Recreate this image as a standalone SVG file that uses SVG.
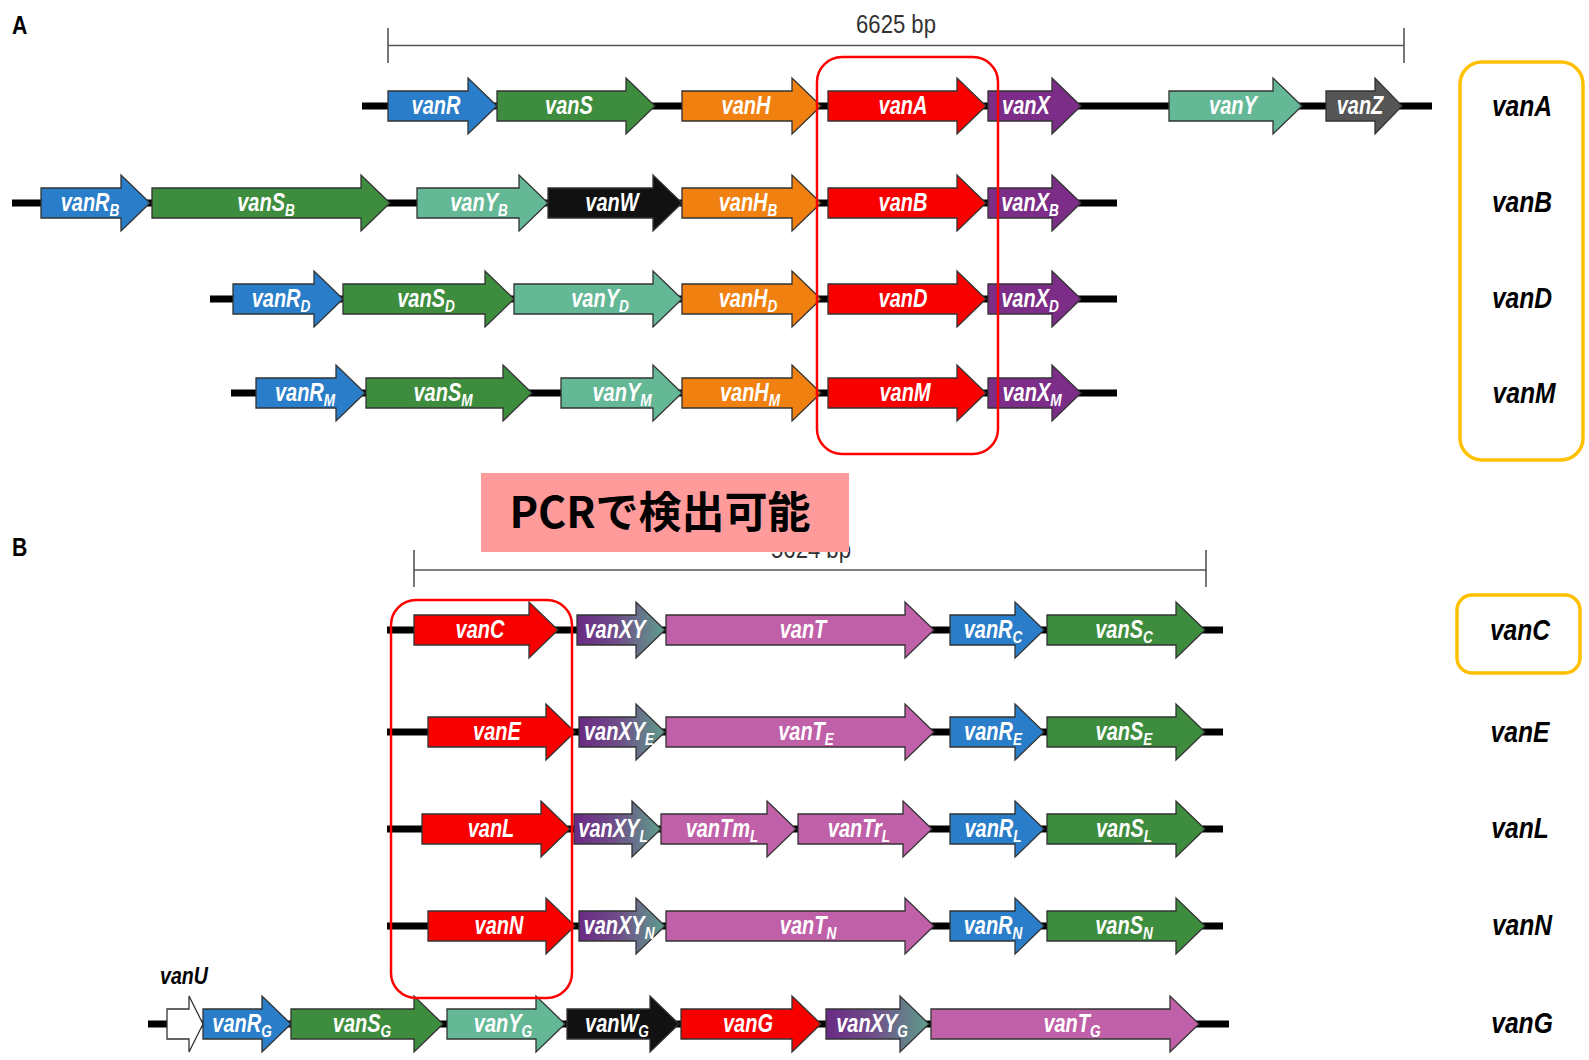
<svg xmlns="http://www.w3.org/2000/svg" width="1589" height="1060" viewBox="0 0 1589 1060">
<defs>
<linearGradient id="gxy" x1="0" y1="0" x2="1" y2="0">
<stop offset="0" stop-color="#6A2A84"/>
<stop offset="0.45" stop-color="#6F4C88"/>
<stop offset="1" stop-color="#5E9E8C"/>
</linearGradient>
<style>
.g{stroke:#333;stroke-width:1.3;stroke-linejoin:miter}
.R{fill:#2A7DC8}.S{fill:#3E8C3E}.H{fill:#F08010}.A{fill:#F80000}.X{fill:#7B2D88}
.Y{fill:#64B896}.Z{fill:#555}.W{fill:#111}.T{fill:#C060A8}.XY{fill:url(#gxy)}.U{fill:#fff}
.gt{font-family:"Liberation Sans",sans-serif;font-style:italic;font-weight:bold;font-size:25px;fill:#fff;text-anchor:middle}
.sub{font-size:17px}
.bb{stroke:#000;stroke-width:7}
.sc{stroke:#555;stroke-width:1.6;fill:none}
.sct{font-family:"Liberation Sans",sans-serif;font-size:26px;fill:#333;text-anchor:middle}
.lab{font-family:"Liberation Sans",sans-serif;font-style:italic;font-weight:bold;font-size:29px;fill:#000;text-anchor:middle}
.pl{font-family:"Liberation Sans",sans-serif;font-weight:bold;font-size:25px;fill:#000}
.redbox{fill:none;stroke:#F00;stroke-width:2.5}
.orbox{fill:none;stroke:#FFC000;stroke-width:3.5}
</style>
</defs>
<rect width="1589" height="1060" fill="#fff"/>

<!-- panel labels -->
<text class="pl" transform="translate(12,34) scale(.85,1)">A</text>
<text class="pl" transform="translate(12,556) scale(.85,1)">B</text>

<!-- scale bars -->
<g id="scaleA">
<path class="sc" d="M388,28 V63 M388,45.5 H1404 M1404,28 V63"/>
<text class="sct" transform="translate(896,33) scale(.85,1)">6625 bp</text>
</g>
<g id="scaleB">
<path class="sc" d="M414,550 V587 M414,570 H1206 M1206,550 V587"/>
<text class="sct" transform="translate(811,558) scale(.85,1)">5624 bp</text>
</g>

<!-- backbones -->
<g id="connectors">
<line class="bb" x1="362" y1="106" x2="1432" y2="106"/>
<line class="bb" x1="12" y1="203" x2="1117" y2="203"/>
<line class="bb" x1="210" y1="299" x2="1117" y2="299"/>
<line class="bb" x1="231" y1="393" x2="1117" y2="393"/>
<line class="bb" x1="387" y1="630" x2="1223" y2="630"/>
<line class="bb" x1="387" y1="732" x2="1223" y2="732"/>
<line class="bb" x1="387" y1="829" x2="1223" y2="829"/>
<line class="bb" x1="387" y1="926" x2="1223" y2="926"/>
<line class="bb" x1="148" y1="1024" x2="1229" y2="1024"/>
</g>

<!-- Row vanA y=106 -->
<g id="rowA">
<g id="vanR"><path class="g R" d="M388,91 H468 V78 L497,106 L468,134 V121 H388 Z"/><text class="gt" transform="translate(436,114) scale(.8,1)">vanR</text></g>
<g id="vanS"><path class="g S" d="M497,91 H626 V78 L655,106 L626,134 V121 H497 Z"/><text class="gt" transform="translate(569,114) scale(.8,1)">vanS</text></g>
<g id="vanH"><path class="g H" d="M682,91 H792 V78 L821,106 L792,134 V121 H682 Z"/><text class="gt" transform="translate(746,114) scale(.8,1)">vanH</text></g>
<g id="vanA"><path class="g A" d="M828,91 H957 V78 L986,106 L957,134 V121 H828 Z"/><text class="gt" transform="translate(903,114) scale(.8,1)">vanA</text></g>
<g id="vanX"><path class="g X" d="M988,91 H1052 V78 L1081,106 L1052,134 V121 H988 Z"/><text class="gt" transform="translate(1026,114) scale(.8,1)">vanX</text></g>
<g id="vanY"><path class="g Y" d="M1169,91 H1273 V78 L1302,106 L1273,134 V121 H1169 Z"/><text class="gt" transform="translate(1233,114) scale(.8,1)">vanY</text></g>
<g id="vanZ"><path class="g Z" d="M1326,91 H1375 V78 L1402,106 L1375,134 V121 H1326 Z"/><text class="gt" transform="translate(1360,114) scale(.8,1)">vanZ</text></g>
</g>

<!-- Row vanB y=203 -->
<g id="rowB">
<g id="vanRB"><path class="g R" d="M41,188 H121 V175 L150,203 L121,231 V218 H41 Z"/><text class="gt" transform="translate(90,211) scale(.8,1)">vanR<tspan class="sub" dy="5">B</tspan></text></g>
<g id="vanSB"><path class="g S" d="M152,188 H361 V175 L390,203 L361,231 V218 H152 Z"/><text class="gt" transform="translate(266,211) scale(.8,1)">vanS<tspan class="sub" dy="5">B</tspan></text></g>
<g id="vanYB"><path class="g Y" d="M417,188 H519 V175 L548,203 L519,231 V218 H417 Z"/><text class="gt" transform="translate(479,211) scale(.8,1)">vanY<tspan class="sub" dy="5">B</tspan></text></g>
<g id="vanW"><path class="g W" d="M548,188 H653 V175 L682,203 L653,231 V218 H548 Z"/><text class="gt" transform="translate(612,211) scale(.8,1)">vanW</text></g>
<g id="vanHB"><path class="g H" d="M682,188 H792 V175 L821,203 L792,231 V218 H682 Z"/><text class="gt" transform="translate(748,211) scale(.8,1)">vanH<tspan class="sub" dy="5">B</tspan></text></g>
<g id="vanB"><path class="g A" d="M828,188 H957 V175 L986,203 L957,231 V218 H828 Z"/><text class="gt" transform="translate(903,211) scale(.8,1)">vanB</text></g>
<g id="vanXB"><path class="g X" d="M988,188 H1052 V175 L1081,203 L1052,231 V218 H988 Z"/><text class="gt" transform="translate(1030,211) scale(.8,1)">vanX<tspan class="sub" dy="5">B</tspan></text></g>
</g>

<!-- Row vanD y=299 -->
<g id="rowD">
<g id="vanRD"><path class="g R" d="M233,284 H314 V271 L343,299 L314,327 V314 H233 Z"/><text class="gt" transform="translate(281,307) scale(.8,1)">vanR<tspan class="sub" dy="5">D</tspan></text></g>
<g id="vanSD"><path class="g S" d="M343,284 H485 V271 L514,299 L485,327 V314 H343 Z"/><text class="gt" transform="translate(426,307) scale(.8,1)">vanS<tspan class="sub" dy="5">D</tspan></text></g>
<g id="vanYD"><path class="g Y" d="M514,284 H653 V271 L682,299 L653,327 V314 H514 Z"/><text class="gt" transform="translate(600,307) scale(.8,1)">vanY<tspan class="sub" dy="5">D</tspan></text></g>
<g id="vanHD"><path class="g H" d="M682,284 H792 V271 L821,299 L792,327 V314 H682 Z"/><text class="gt" transform="translate(748,307) scale(.8,1)">vanH<tspan class="sub" dy="5">D</tspan></text></g>
<g id="vanD"><path class="g A" d="M828,284 H957 V271 L986,299 L957,327 V314 H828 Z"/><text class="gt" transform="translate(903,307) scale(.8,1)">vanD</text></g>
<g id="vanXD"><path class="g X" d="M988,284 H1052 V271 L1081,299 L1052,327 V314 H988 Z"/><text class="gt" transform="translate(1030,307) scale(.8,1)">vanX<tspan class="sub" dy="5">D</tspan></text></g>
</g>

<!-- Row vanM y=393 -->
<g id="rowM">
<g id="vanRM"><path class="g R" d="M256,378 H336 V365 L365,393 L336,421 V408 H256 Z"/><text class="gt" transform="translate(305,401) scale(.8,1)">vanR<tspan class="sub" dy="5">M</tspan></text></g>
<g id="vanSM"><path class="g S" d="M366,378 H503 V365 L532,393 L503,421 V408 H366 Z"/><text class="gt" transform="translate(443,401) scale(.8,1)">vanS<tspan class="sub" dy="5">M</tspan></text></g>
<g id="vanYM"><path class="g Y" d="M561,378 H653 V365 L682,393 L653,421 V408 H561 Z"/><text class="gt" transform="translate(622,401) scale(.8,1)">vanY<tspan class="sub" dy="5">M</tspan></text></g>
<g id="vanHM"><path class="g H" d="M682,378 H792 V365 L821,393 L792,421 V408 H682 Z"/><text class="gt" transform="translate(750,401) scale(.8,1)">vanH<tspan class="sub" dy="5">M</tspan></text></g>
<g id="vanMg"><path class="g A" d="M828,378 H957 V365 L986,393 L957,421 V408 H828 Z"/><text class="gt" transform="translate(905,401) scale(.8,1)">vanM</text></g>
<g id="vanXM"><path class="g X" d="M988,378 H1052 V365 L1081,393 L1052,421 V408 H988 Z"/><text class="gt" transform="translate(1032,401) scale(.8,1)">vanX<tspan class="sub" dy="5">M</tspan></text></g>
</g>

<!-- Row vanC y=630 -->
<g id="rowC">
<g id="vanCg"><path class="g A" d="M414,615 H529 V602 L558,630 L529,658 V645 H414 Z"/><text class="gt" transform="translate(480,638) scale(.8,1)">vanC</text></g>
<g id="vanXY"><path class="g XY" d="M577,615 H636 V602 L665,630 L636,658 V645 H577 Z"/><text class="gt" transform="translate(615,638) scale(.8,1)">vanXY</text></g>
<g id="vanT"><path class="g T" d="M666,615 H905 V602 L934,630 L905,658 V645 H666 Z"/><text class="gt" transform="translate(803,638) scale(.8,1)">vanT</text></g>
<g id="vanRC"><path class="g R" d="M950,615 H1015 V602 L1044,630 L1015,658 V645 H950 Z"/><text class="gt" transform="translate(993,638) scale(.8,1)">vanR<tspan class="sub" dy="5">C</tspan></text></g>
<g id="vanSC"><path class="g S" d="M1047,615 H1176 V602 L1205,630 L1176,658 V645 H1047 Z"/><text class="gt" transform="translate(1124,638) scale(.8,1)">vanS<tspan class="sub" dy="5">C</tspan></text></g>
</g>

<!-- Row vanE y=732 -->
<g id="rowE">
<g id="vanEg"><path class="g A" d="M428,717 H546 V704 L575,732 L546,760 V747 H428 Z"/><text class="gt" transform="translate(497,740) scale(.8,1)">vanE</text></g>
<g id="vanXYE"><path class="g XY" d="M579,717 H636 V704 L665,732 L636,760 V747 H579 Z"/><text class="gt" transform="translate(619,740) scale(.8,1)">vanXY<tspan class="sub" dy="5">E</tspan></text></g>
<g id="vanTE"><path class="g T" d="M666,717 H905 V704 L934,732 L905,760 V747 H666 Z"/><text class="gt" transform="translate(806,740) scale(.8,1)">vanT<tspan class="sub" dy="5">E</tspan></text></g>
<g id="vanRE"><path class="g R" d="M950,717 H1015 V704 L1044,732 L1015,760 V747 H950 Z"/><text class="gt" transform="translate(993,740) scale(.8,1)">vanR<tspan class="sub" dy="5">E</tspan></text></g>
<g id="vanSE"><path class="g S" d="M1047,717 H1176 V704 L1205,732 L1176,760 V747 H1047 Z"/><text class="gt" transform="translate(1124,740) scale(.8,1)">vanS<tspan class="sub" dy="5">E</tspan></text></g>
</g>

<!-- Row vanL y=829 -->
<g id="rowL">
<g id="vanLg"><path class="g A" d="M422,814 H541 V801 L570,829 L541,857 V844 H422 Z"/><text class="gt" transform="translate(491,837) scale(.8,1)">vanL</text></g>
<g id="vanXYL"><path class="g XY" d="M574,814 H632 V801 L661,829 L632,857 V844 H574 Z"/><text class="gt" transform="translate(613,837) scale(.8,1)">vanXY<tspan class="sub" dy="5">L</tspan></text></g>
<g id="vanTmL"><path class="g T" d="M661,814 H767 V801 L796,829 L767,857 V844 H661 Z"/><text class="gt" transform="translate(722,837) scale(.8,1)">vanTm<tspan class="sub" dy="5">L</tspan></text></g>
<g id="vanTrL"><path class="g T" d="M798,814 H903 V801 L932,829 L903,857 V844 H798 Z"/><text class="gt" transform="translate(859,837) scale(.8,1)">vanTr<tspan class="sub" dy="5">L</tspan></text></g>
<g id="vanRL"><path class="g R" d="M950,814 H1015 V801 L1044,829 L1015,857 V844 H950 Z"/><text class="gt" transform="translate(993,837) scale(.8,1)">vanR<tspan class="sub" dy="5">L</tspan></text></g>
<g id="vanSL"><path class="g S" d="M1047,814 H1176 V801 L1205,829 L1176,857 V844 H1047 Z"/><text class="gt" transform="translate(1124,837) scale(.8,1)">vanS<tspan class="sub" dy="5">L</tspan></text></g>
</g>

<!-- Row vanN y=926 -->
<g id="rowN">
<g id="vanNg"><path class="g A" d="M428,911 H546 V898 L575,926 L546,954 V941 H428 Z"/><text class="gt" transform="translate(499,934) scale(.8,1)">vanN</text></g>
<g id="vanXYN"><path class="g XY" d="M579,911 H636 V898 L665,926 L636,954 V941 H579 Z"/><text class="gt" transform="translate(619,934) scale(.8,1)">vanXY<tspan class="sub" dy="5">N</tspan></text></g>
<g id="vanTN"><path class="g T" d="M666,911 H905 V898 L934,926 L905,954 V941 H666 Z"/><text class="gt" transform="translate(808,934) scale(.8,1)">vanT<tspan class="sub" dy="5">N</tspan></text></g>
<g id="vanRN"><path class="g R" d="M950,911 H1015 V898 L1044,926 L1015,954 V941 H950 Z"/><text class="gt" transform="translate(993,934) scale(.8,1)">vanR<tspan class="sub" dy="5">N</tspan></text></g>
<g id="vanSN"><path class="g S" d="M1047,911 H1176 V898 L1205,926 L1176,954 V941 H1047 Z"/><text class="gt" transform="translate(1124,934) scale(.8,1)">vanS<tspan class="sub" dy="5">N</tspan></text></g>
</g>

<!-- Row vanG y=1024 -->
<g id="rowG">
<g id="vanU"><path class="g U" d="M167,1009 H189 V996 L203,1024 L189,1052 V1039 H167 Z"/><text transform="translate(184,984) scale(.85,1)" style="font-family:'Liberation Sans',sans-serif;font-style:italic;font-weight:bold;font-size:23px;fill:#000;text-anchor:middle">vanU</text></g>
<g id="vanRG"><path class="g R" d="M203,1009 H262 V996 L291,1024 L262,1052 V1039 H203 Z"/><text class="gt" transform="translate(242,1032) scale(.8,1)">vanR<tspan class="sub" dy="5">G</tspan></text></g>
<g id="vanSG"><path class="g S" d="M291,1009 H414 V996 L443,1024 L414,1052 V1039 H291 Z"/><text class="gt" transform="translate(362,1032) scale(.8,1)">vanS<tspan class="sub" dy="5">G</tspan></text></g>
<g id="vanYG"><path class="g Y" d="M447,1009 H536 V996 L565,1024 L536,1052 V1039 H447 Z"/><text class="gt" transform="translate(503,1032) scale(.8,1)">vanY<tspan class="sub" dy="5">G</tspan></text></g>
<g id="vanWG"><path class="g W" d="M567,1009 H650 V996 L679,1024 L650,1052 V1039 H567 Z"/><text class="gt" transform="translate(617,1032) scale(.8,1)">vanW<tspan class="sub" dy="5">G</tspan></text></g>
<g id="vanGg"><path class="g A" d="M681,1009 H792 V996 L821,1024 L792,1052 V1039 H681 Z"/><text class="gt" transform="translate(748,1032) scale(.8,1)">vanG</text></g>
<g id="vanXYG"><path class="g XY" d="M826,1009 H900 V996 L929,1024 L900,1052 V1039 H826 Z"/><text class="gt" transform="translate(872,1032) scale(.8,1)">vanXY<tspan class="sub" dy="5">G</tspan></text></g>
<g id="vanTG"><path class="g T" d="M931,1009 H1170 V996 L1199,1024 L1170,1052 V1039 H931 Z"/><text class="gt" transform="translate(1072,1032) scale(.8,1)">vanT<tspan class="sub" dy="5">G</tspan></text></g>
</g>

<!-- highlight boxes -->
<g id="redboxA"><rect class="redbox" x="817" y="57" width="181" height="397" rx="25"/></g>
<g id="redboxB"><rect class="redbox" x="391" y="600" width="181" height="398" rx="25"/></g>
<g id="orboxA"><rect class="orbox" x="1460" y="62" width="123" height="398" rx="22"/></g>
<g id="orboxC"><rect class="orbox" x="1457" y="595" width="123" height="78" rx="15"/></g>

<!-- type labels -->
<g id="labels">
<text class="lab" transform="translate(1522,116) scale(.85,1)">vanA</text>
<text class="lab" transform="translate(1522,212) scale(.85,1)">vanB</text>
<text class="lab" transform="translate(1522,308) scale(.85,1)">vanD</text>
<text class="lab" transform="translate(1524,403) scale(.85,1)">vanM</text>
<text class="lab" transform="translate(1520,640) scale(.85,1)">vanC</text>
<text class="lab" transform="translate(1520,742) scale(.85,1)">vanE</text>
<text class="lab" transform="translate(1520,838) scale(.85,1)">vanL</text>
<text class="lab" transform="translate(1522,935) scale(.85,1)">vanN</text>
<text class="lab" transform="translate(1522,1033) scale(.85,1)">vanG</text>
</g>

<!-- PCR note -->
<g id="pcrNote">
<rect x="481" y="473" width="368" height="79" fill="#FF9B9B"/>
<text x="660" y="528" style="font-family:'Noto Sans CJK JP','Noto Sans',sans-serif;font-weight:bold;font-size:43px;fill:#000;text-anchor:middle">PCRで検出可能</text>
</g>
</svg>
